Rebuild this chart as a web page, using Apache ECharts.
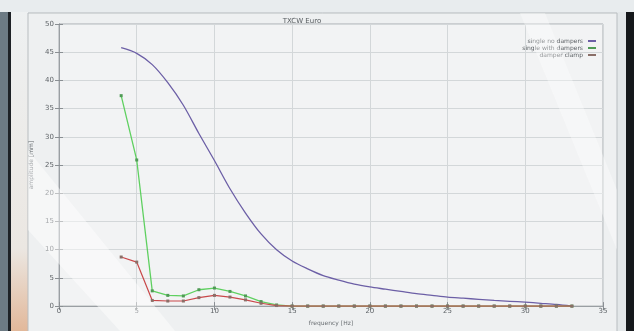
<!DOCTYPE html>
<html><head><meta charset="utf-8">
<script src="https://cdn.jsdelivr.net/npm/echarts@6/dist/echarts.min.js"></script>
<style>html,body{margin:0;padding:0;background:#2b2f33;}#c{width:634px;height:331px;}</style>
</head><body><div id="c"></div>
<script>
const titleText = 'TXCW Euro';
const seriesNames = ['single no dampers', 'single with dampers', 'damper clamp'];
const freqs = [4,5,6,7,8,9,10,11,12,13,14,15,16,17,18,19,20,21,22,23,24,25,26,27,28,29,30,31,32,33];
const noDampers = [45.8,44.8,42.8,39.6,35.6,30.6,25.8,20.8,16.5,12.8,10.0,8.0,6.6,5.4,4.6,3.9,3.4,3.0,2.6,2.2,1.9,1.6,1.4,1.2,1.0,0.85,0.7,0.5,0.3,0.0];
const withDampers = [37.3,25.9,2.7,1.9,1.8,2.9,3.2,2.6,1.8,0.8,0.2,0,0,0,0,0,0,0,0,0,0,0,0,0,0,0,0,0,0,0];
const damperClamp = [8.7,7.8,1.0,0.9,0.9,1.5,1.9,1.6,1.1,0.5,0.1,0,0,0,0,0,0,0,0,0,0,0,0,0,0,0,0,0,0,0];
const xTicks = {min:0, max:35, interval:5};
const yTicks = {min:0, max:50, interval:5};

const pairs = arr => freqs.map((f,i)=>[f, arr[i]]);
const chart = echarts.init(document.getElementById('c'), null, {renderer:'canvas'});
const axisCommon = {
  axisLine:{show:true, lineStyle:{color:'#9a9fa3', width:1}},
  axisTick:{show:true, inside:true, length:4, lineStyle:{color:'#8a8f93'}},
  splitLine:{show:false}
};
chart.setOption({
  animation:false,
  backgroundColor:'#e3e7e9',
  graphic:[
    {type:'rect', shape:{x:0,y:0,width:8,height:331}, style:{fill:'#6d7b84'}, z:-10},
    {type:'rect', shape:{x:8,y:0,width:3,height:331}, style:{fill:'#1e2226'}, z:-10},
    {type:'rect', shape:{x:11,y:0,width:17,height:331}, style:{fill:new echarts.graphic.LinearGradient(0,0,0,1,[{offset:0,color:'#eef1f2'},{offset:0.75,color:'#ebe7e2'},{offset:1,color:'#e2b89a'}])}, z:-10},
    {type:'rect', shape:{x:626,y:0,width:8,height:331}, style:{fill:'#15181b'}, z:-10},
    {type:'rect', shape:{x:28,y:13,width:589,height:330}, style:{fill:'#eef0f1', stroke:'#b8bdc0', lineWidth:1}, z:-9},
    {type:'rect', shape:{x:0,y:0,width:634,height:12}, style:{fill:'#e8ecee'}, z:-9},
    {type:'polygon', shape:{points:[[28,150],[28,230],[120,331],[175,331]]}, style:{fill:'rgba(255,255,255,0.45)'}, z:20, silent:true},
    {type:'polygon', shape:{points:[[520,13],[545,13],[617,190],[617,250]]}, style:{fill:'rgba(255,255,255,0.35)'}, z:20, silent:true}
  ],
  title:{text:titleText, left:297, top:13, textAlign:'center',
    textStyle:{fontFamily:'DejaVu Sans', fontSize:7, fontWeight:'normal', color:'#555a5e'}},
  legend:{
    orient:'vertical', right:33, top:33, align:'right', itemGap:1,
    itemWidth:8, itemHeight:2, icon:'rect',
    textStyle:{fontFamily:'DejaVu Sans', fontSize:6, color:'#5a5f63', padding:[0,0,0,0]},
    data:seriesNames
  },
  grid:[{left:59, right:31, top:24, bottom:12, show:true, backgroundColor:'#f2f3f4', borderColor:'#a8adb0', borderWidth:1}],
  xAxis:[
    Object.assign({type:'value', min:xTicks.min, max:xTicks.max, interval:xTicks.interval, position:'bottom',
      name:'frequency [Hz]', nameLocation:'middle', nameGap:8,
      nameTextStyle:{fontFamily:'DejaVu Sans', fontSize:6, color:'#6a6f73'},
      axisLabel:{fontFamily:'DejaVu Sans', fontSize:7, color:'#5f6468', margin:2}}, axisCommon,
      {splitLine:{show:true, lineStyle:{color:'#d3d7d9', width:1}}}),
    Object.assign({type:'value', min:xTicks.min, max:xTicks.max, interval:xTicks.interval, position:'top',
      axisLabel:{show:false}}, axisCommon)
  ],
  yAxis:[
    Object.assign({type:'value', min:yTicks.min, max:yTicks.max, interval:yTicks.interval, position:'left',
      name:'amplitude [mm]', nameLocation:'middle', nameGap:24, nameRotate:90,
      nameTextStyle:{fontFamily:'DejaVu Sans', fontSize:6, color:'#5f6468'},
      axisLabel:{fontFamily:'DejaVu Sans', fontSize:7, color:'#5f6468', margin:5}}, axisCommon,
      {splitLine:{show:true, lineStyle:{color:'#d3d7d9', width:1}}}),
    Object.assign({type:'value', min:yTicks.min, max:yTicks.max, interval:yTicks.interval, position:'right',
      axisLabel:{show:false}}, axisCommon)
  ],
  series:[
    {name:seriesNames[0], type:'line', data:pairs(noDampers), smooth:0.3, showSymbol:false,
      lineStyle:{color:'#6c5fa6', width:1.3}, itemStyle:{color:'#6c5fa6'}, z:3},
    {name:seriesNames[1], type:'line', data:pairs(withDampers), symbol:'rect', symbolSize:3,
      lineStyle:{color:'#5fd060', width:1.3}, itemStyle:{color:'#4f9a55'}, z:4},
    {name:seriesNames[2], type:'line', data:pairs(damperClamp), symbol:'rect', symbolSize:3,
      lineStyle:{color:'#c8484a', width:1.2}, itemStyle:{color:'#8a6f68'}, z:5}
  ]
});
</script></body></html>
